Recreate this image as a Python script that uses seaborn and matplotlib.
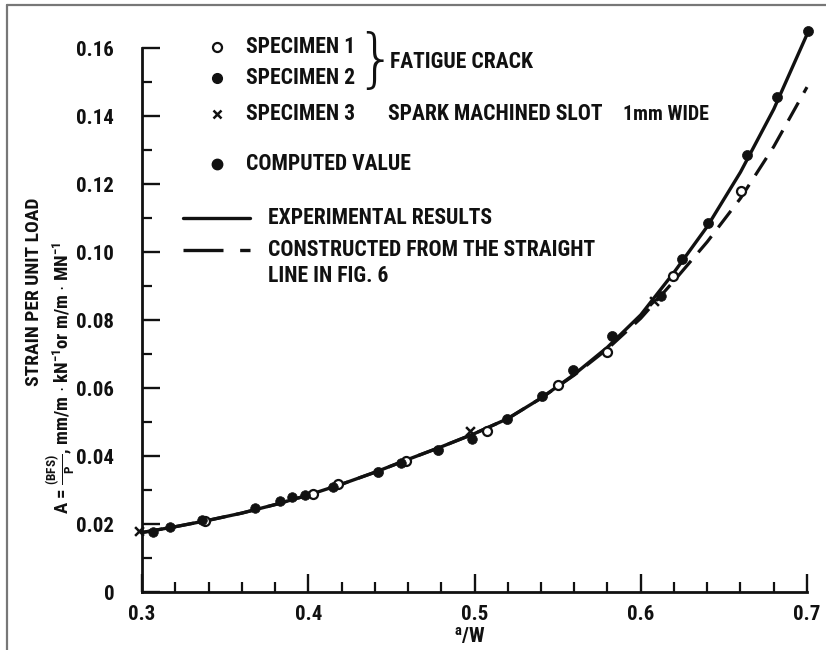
import numpy as np
import pandas as pd
import matplotlib
matplotlib.use("Agg")
import matplotlib.pyplot as plt
from matplotlib import font_manager
from matplotlib.lines import Line2D
from matplotlib.ticker import MultipleLocator, FixedLocator
import seaborn as sns

# Experimental curve, strain per unit load against a/W
curve_aw = [0.30, 0.32, 0.34, 0.36, 0.38, 0.40, 0.42, 0.44, 0.46, 0.48, 0.50,
            0.52, 0.54, 0.56, 0.58, 0.60, 0.62, 0.64, 0.66, 0.68, 0.70]
curve_exp = [0.0175, 0.0192, 0.0211, 0.0232, 0.0257, 0.0285, 0.0317, 0.0352,
             0.0390, 0.0427, 0.0466, 0.0510, 0.0570, 0.0640, 0.0720, 0.0815,
             0.0940, 0.1075, 0.1235, 0.1420, 0.1640]

# Curve constructed from the straight line in Fig. 6
constr_aw = [0.30, 0.32, 0.34, 0.36, 0.38, 0.40, 0.42, 0.44, 0.46, 0.48, 0.50,
             0.52, 0.54, 0.56, 0.58, 0.60, 0.62, 0.64, 0.66, 0.68, 0.70]
constr_val = [0.0175, 0.0192, 0.0211, 0.0232, 0.0257, 0.0285, 0.0317, 0.0352,
              0.0390, 0.0427, 0.0466, 0.0510, 0.0570, 0.0638, 0.0715, 0.0805,
              0.0915, 0.1030, 0.1158, 0.1310, 0.1485]

# Specimen 1 (fatigue crack), open circles
spec1_aw = [0.338, 0.403, 0.418, 0.459, 0.5076, 0.550, 0.5797, 0.6195, 0.660]
spec1_val = [0.0210, 0.0288, 0.0318, 0.0385, 0.0473, 0.0609, 0.0706, 0.0930, 0.1180]

# Specimen 2 (fatigue crack), filled circles
spec2_aw = [0.3066, 0.317, 0.336, 0.368, 0.383, 0.390, 0.398, 0.415, 0.456, 0.4985, 0.612]
spec2_val = [0.0176, 0.0190, 0.0212, 0.0247, 0.0268, 0.0280, 0.0285, 0.0310, 0.0378, 0.0450, 0.0870]

# Specimen 3 (spark machined slot), crosses
spec3_aw = [0.298, 0.497, 0.608]
spec3_val = [0.0178, 0.0475, 0.0855]

# Computed values, filled circles
comp_aw = [0.442, 0.478, 0.5196, 0.5407, 0.559, 0.583, 0.625, 0.6405, 0.664, 0.682, 0.7005]
comp_val = [0.0353, 0.0418, 0.0508, 0.0576, 0.0653, 0.0753, 0.0980, 0.1085, 0.1285, 0.1456, 0.1650]

x_ticks = [0.3, 0.4, 0.5, 0.6, 0.7]
x_ticklabels = ["0.3", "0.4", "0.5", "0.6", "0.7"]
y_ticks = [0, 0.02, 0.04, 0.06, 0.08, 0.10, 0.12, 0.14, 0.16]
y_ticklabels = ["0", "0.02", "0.04", "0.06", "0.08", "0.10", "0.12", "0.14", "0.16"]


def pick_narrow_family():
    names = sorted({f.name for f in font_manager.fontManager.ttflist})
    for pref in ("Liberation Sans Narrow", "DejaVu Sans Condensed",
                 "Roboto Condensed", "Open Sans Condensed", "Noto Sans Condensed"):
        if pref in names:
            return pref, True
    for n in names:
        if "Condensed" in n or "Narrow" in n:
            return n, True
    for pref in ("Roboto", "Liberation Sans"):
        if pref in names:
            return pref, False
    return "DejaVu Sans", False


FAMILY, NARROW = pick_narrow_family()
SCALE = 1.0 if NARROW else 0.8

sns.set_style("ticks")
plt.rcParams["font.family"] = [FAMILY, "DejaVu Sans"]
plt.rcParams["font.weight"] = "bold"
plt.rcParams["mathtext.fontset"] = "custom"
for key in ("rm", "bf", "it", "sf"):
    plt.rcParams["mathtext." + key] = FAMILY + ":bold"

W, H = 826, 650
fig = plt.figure(figsize=(W / 100, H / 100), dpi=100)
fig.patch.set_facecolor("white")

# axes: a/W 0.3..0.7 spans px 142..807, A 0..0.17 spans px 592..14
ax = fig.add_axes([142 / W, 58 / H, 665 / W, 578 / H])
ax.set_facecolor("white")
ink = "#111111"

df_exp = pd.DataFrame({"aw": curve_aw, "A": curve_exp})
df_con = pd.DataFrame({"aw": constr_aw, "A": constr_val})
sns.lineplot(data=df_con, x="aw", y="A", ax=ax, color=ink, lw=2.3,
             clip_on=False, zorder=2)
ax.lines[-1].set_dashes([6.5, 3.5])
sns.lineplot(data=df_exp, x="aw", y="A", ax=ax, color=ink, lw=2.4,
             clip_on=False, zorder=3)

sns.scatterplot(x=spec1_aw, y=spec1_val, ax=ax, marker="o", s=42,
                facecolor="white", edgecolor=ink, linewidth=1.6, zorder=5, clip_on=False)
sns.scatterplot(x=spec2_aw, y=spec2_val, ax=ax, marker="o", s=48,
                color=ink, edgecolor=ink, linewidth=0.5, zorder=5, clip_on=False)
sns.scatterplot(x=comp_aw, y=comp_val, ax=ax, marker="o", s=52,
                color=ink, edgecolor=ink, linewidth=0.5, zorder=5, clip_on=False)
sns.scatterplot(x=spec3_aw, y=spec3_val, ax=ax, marker="x", s=40,
                color=ink, linewidth=1.8, zorder=5, clip_on=False)

ax.set_xlim(0.3, 0.7)
ax.set_ylim(0, 0.17)
ax.set_xlabel("")
ax.set_ylabel("")
for side in ("top", "right"):
    ax.spines[side].set_visible(False)
for side in ("left", "bottom"):
    ax.spines[side].set_linewidth(2.0)
    ax.spines[side].set_color(ink)
ax.spines["left"].set_bounds(0, 0.16)

ax.xaxis.set_major_locator(FixedLocator(x_ticks))
ax.xaxis.set_minor_locator(MultipleLocator(0.02))
ax.yaxis.set_major_locator(FixedLocator(y_ticks))
ax.yaxis.set_minor_locator(FixedLocator([v / 100 for v in range(1, 16, 2)]))
ax.set_xticklabels(x_ticklabels)
ax.set_yticklabels(y_ticklabels)
ax.tick_params(which="major", direction="in", length=13, width=1.7, color=ink)
ax.tick_params(which="minor", direction="in", length=7.5, width=1.6, color=ink)
ax.tick_params(axis="y", which="major", pad=20, labelsize=15 * SCALE, labelcolor=ink)
ax.tick_params(axis="x", which="major", pad=9, labelsize=15 * SCALE, labelcolor=ink)
for lab in ax.get_xticklabels() + ax.get_yticklabels():
    lab.set_fontweight("bold")


def px(x, y):
    return x / W, 1 - y / H


# axis titles
fig.text(*px(470, 636), r"$^{a}$/W", fontsize=15 * SCALE, ha="center", va="center", color=ink)
fig.text(*px(34, 292), "STRAIN PER UNIT LOAD", rotation=90, fontsize=14 * SCALE,
         ha="center", va="center", color=ink)
fig.text(*px(61, 378), r"A = $\frac{(BFS)}{P}$, mm/m $\cdot$ kN$^{-1}$or m/m $\cdot$ MN$^{-1}$",
         rotation=90, fontsize=13.5 * SCALE, ha="center", va="center", color=ink)

# key
key_fs = 15.6 * SCALE
kx = 217
fig.add_artist(Line2D([px(kx, 47)[0]], [px(kx, 47)[1]], marker="o", ms=6.5,
                      mfc="white", mec=ink, mew=1.6, ls="none"))
fig.add_artist(Line2D([px(kx, 78)[0]], [px(kx, 78)[1]], marker="o", ms=7,
                      mfc=ink, mec=ink, ls="none"))
fig.add_artist(Line2D([px(kx, 114)[0]], [px(kx, 114)[1]], marker="x", ms=6,
                      mec=ink, mew=1.8, ls="none"))
fig.add_artist(Line2D([px(kx, 164)[0]], [px(kx, 164)[1]], marker="o", ms=7.5,
                      mfc=ink, mec=ink, ls="none"))
fig.text(*px(246, 47), "SPECIMEN 1", fontsize=key_fs, va="center", color=ink)
fig.text(*px(246, 78), "SPECIMEN 2", fontsize=key_fs, va="center", color=ink)
fig.text(*px(246, 114), "SPECIMEN 3", fontsize=key_fs, va="center", color=ink)
fig.text(*px(246, 164), "COMPUTED VALUE", fontsize=key_fs, va="center", color=ink)
fig.text(*px(355, 62), "}", fontsize=46, family="DejaVu Sans", fontweight="light",
         va="center", ha="left", color=ink)
fig.text(*px(390, 62), "FATIGUE CRACK", fontsize=key_fs, va="center", color=ink)
fig.text(*px(388, 114), "SPARK MACHINED SLOT", fontsize=key_fs, va="center", color=ink)
fig.text(*px(623, 115), "1mm WIDE", fontsize=14.4 * SCALE, va="center", color=ink)

fig.add_artist(Line2D([183 / W, 250 / W], [1 - 218 / H] * 2, color=ink, lw=2.4))
fig.add_artist(Line2D([183 / W, 250 / W], [1 - 250 / H] * 2, color=ink, lw=2.4,
                      dashes=[12, 5]))
fig.text(*px(268, 218), "EXPERIMENTAL RESULTS", fontsize=key_fs, va="center", color=ink)
fig.text(*px(268, 250), "CONSTRUCTED FROM THE STRAIGHT", fontsize=key_fs, va="center", color=ink)
fig.text(*px(268, 276), "LINE IN FIG. 6", fontsize=key_fs, va="center", color=ink)

# frame on the top and left edges of the sheet
fig.add_artist(Line2D([7 / W, 1], [1 - 5 / H] * 2, color="#777777", lw=1.6))
fig.add_artist(Line2D([7 / W] * 2, [0, 1 - 5 / H], color="#777777", lw=1.6))

fig.savefig("out.png", dpi=100, facecolor="white")
